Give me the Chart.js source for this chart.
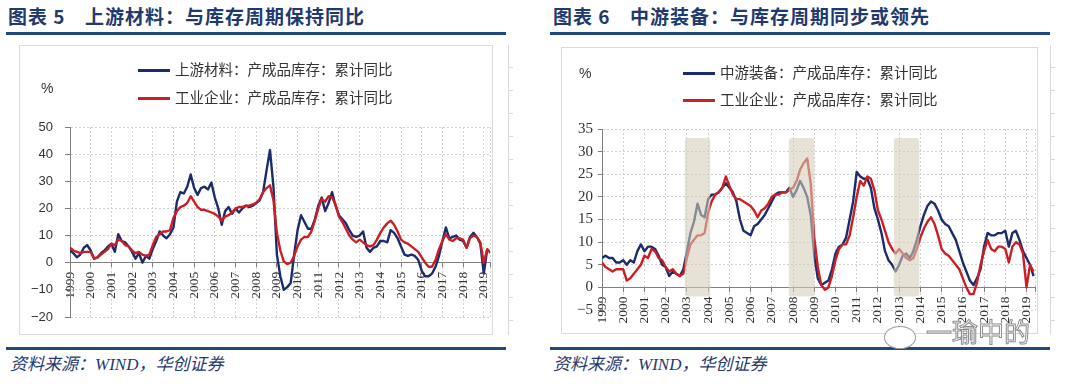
<!DOCTYPE html>
<html lang="zh-CN">
<head>
<meta charset="UTF-8">
<title>上游材料与中游装备：库存周期</title>
<script src="https://cdn.jsdelivr.net/npm/chart.js"></script>
<style>
  body { margin: 0; background: #fff; }
  #page { position: relative; width: 1080px; height: 384px; overflow: hidden; font-family: "Noto Sans CJK SC", sans-serif; }
  #page > div, #page > canvas { position: absolute; }
  .title { top: 4px; font-size: 19px; font-weight: 700; color: #1f3a6e; line-height: 24px; white-space: nowrap; letter-spacing: 1px; }
  .rule { height: 3px; background: #1f4a80; }
  .box { border: 1px solid #dadada; }
  .edge { top: 45px; width: 4px; height: 290px; border-left: 1px solid #d8d8d8;
          background: repeating-linear-gradient(to bottom, transparent 0, transparent 22px, #d8d8d8 22px, #d8d8d8 23px); }
  .legend { font-size: 14.5px; color: #333; line-height: 18px; white-space: nowrap; }
  .legend i { display: inline-block; width: 32px; height: 3px; margin-right: 5px; vertical-align: middle; position: relative; top: -1px; }
  .unit { font-family: "Liberation Sans", sans-serif; font-size: 14px; color: #333; line-height: 16px; }
  .source { top: 355px; font-family: "Liberation Serif", "Noto Sans CJK SC", serif; font-style: italic; font-size: 17px; color: #1f3a6e; line-height: 20px; white-space: nowrap; }
  .wm { font-size: 26px; line-height: 32px; color: #fff; -webkit-text-stroke: 1px #8c8c8c; white-space: nowrap; }
</style>
</head>
<body>
<div id="page">
  <!-- 图表 5 -->
  <div class="title" style="left:8px">图表 5</div>
  <div class="title" style="left:85px">上游材料：与库存周期保持同比</div>
  <div class="rule" style="left:6px; top:32px; width:500px"></div>
  <div class="box" style="left:19px; top:45px; width:472px; height:288px"></div>
  <div class="edge" style="left:508px"></div>
  <div class="rule" style="left:6px; top:347px; width:500px"></div>
  <div class="source" style="left:10px">资料来源：WIND，华创证券</div>

  <!-- 图表 6 -->
  <div class="title" style="left:553px">图表 6</div>
  <div class="title" style="left:630px">中游装备：与库存周期同步或领先</div>
  <div class="rule" style="left:550px; top:32px; width:500px"></div>
  <div class="box" style="left:561px; top:47px; width:475px; height:285px"></div>
  <div class="edge" style="left:1050px"></div>
  <div class="rule" style="left:550px; top:347px; width:500px"></div>
  <div class="source" style="left:553px">资料来源：WIND，华创证券</div>

  <canvas id="left" width="540" height="384" style="left:0; top:0"></canvas>
  <canvas id="right" width="540" height="384" style="left:540px; top:0"></canvas>

  <div class="unit" style="left:41px; top:80px">%</div>
  <div class="legend" id="lg1" style="left:138px; top:60px"></div>
  <div class="legend" id="lg2" style="left:138px; top:88px"></div>

  <div class="unit" style="left:579px; top:65px">%</div>
  <div class="legend" id="lg3" style="left:683px; top:63px"></div>
  <div class="legend" id="lg4" style="left:683px; top:90px"></div>

  <div style="left:884px; top:326px; width:30px; height:21px; border:1.5px solid #9a9a9a; border-radius:50%; background:#fff"></div>
  <div class="wm" style="left:926px; top:315px">一瑜中的</div>
</div>

<script>
// x positions: one reading every two months starting Jan 1999
const months = [];
for (let k = 0; k < 123; k++) months.push(1999 + k / 6);

const years = [1999, 2000, 2001, 2002, 2003, 2004, 2005, 2006, 2007, 2008, 2009,
               2010, 2011, 2012, 2013, 2014, 2015, 2016, 2017, 2018, 2019];

// 上游材料：产成品库存：累计同比 (%)
const upstream = [
  4.5, 3.5, 2, 3, 5.5, 6.5,
  4.5, 1.5, 2, 3.5, 4.5, 6,
  7, 4, 10.5, 8, 7.5, 6,
  4, 1.5, 3.5, 0, 2.5, 1.5,
  5, 8, 11.5, 10, 9, 10.5,
  13, 22.5, 26, 25.5, 28, 32.5,
  27.5, 25, 27.5, 28, 27, 29.5,
  24, 20, 14, 19, 20.5, 18,
  20, 18.5, 20, 21, 20.5, 21,
  22, 23, 26, 34, 41.5, 28,
  3, -5, -10, -9, -7.5, 3,
  12, 17.5, 15, 12.5, 12.5, 16,
  21, 24, 19, 22, 26, 21,
  17.5, 16, 14.5, 12, 10, 9.5,
  10, 11.5, 5.5, 4, 5.5, 6,
  8, 8, 7.5, 12, 11, 9,
  6, 3, 2.5, 3, 2.5, 1,
  -3, -5, -5, -4, -1.5, 2.5,
  8, 13, 9, 9.5, 10, 8.5,
  8, 5.5, 9.5, 11, 9.5, 7,
  -4, 5
];

// 中游装备：产成品库存：累计同比 (%)
const midstream = [
  6.5, 7, 6.5, 6.5, 5.5, 5.5,
  6, 5, 6, 5.5, 8, 9.5,
  8, 9, 9, 8.5, 7, 5,
  4.5, 2.5, 3.5, 3, 2.5, 4,
  8, 12, 14.5, 18.5, 16, 15.5,
  19.5, 20.5, 20.5, 21, 22, 23,
  22, 21, 19, 15, 12.5, 12,
  11.5, 13.5, 14, 15, 16, 17.5,
  19, 20.5, 21, 21, 21, 22,
  20, 21.5, 23.5, 22, 20, 16,
  7, 2, 0.5, 1, 1.5, 4,
  7.5, 9, 9.5, 11, 15, 19,
  25.5, 24.5, 24, 24, 22, 17.5,
  15, 12, 8, 6, 5, 3.5,
  5, 7, 7.5, 6.5, 8, 10.5,
  13.5, 16, 18, 19, 18.5, 17,
  15, 14, 13.5, 12, 10.5, 8,
  5.5, 3.5, 1.5, 0.5, 2, 4,
  9, 12, 11.5, 11.5, 12, 12,
  12.5, 9, 12, 12.5, 10.5, 8,
  6.5, 5, 2.5
];

// 工业企业：产成品库存：累计同比 (%) — same series in both panels
const industry = [
  5.5, 4.5, 4, 3.5, 4, 4,
  4, 1.5, 2, 3, 4, 5,
  7, 6.5, 8.5, 8, 6.5, 6,
  4.5, 3.5, 4, 3, 2.5, 3,
  6.5, 9.5, 10.5, 11.5, 11.5, 12,
  16.5, 19, 20.5, 21, 22, 24.5,
  22.5, 20.5, 19.5, 19.5, 19, 18.5,
  18, 17, 15.5, 17, 17.5, 18.5,
  20, 20.5, 20.5, 21, 21, 21.5,
  22, 23.5, 26, 27.5, 28.5, 23,
  11, 4.5, 0.5, -0.5, 0, 2.5,
  6, 8.5, 9.5, 9.5, 11.5, 15.5,
  20, 23.5, 22.5, 24.5, 24, 21.5,
  17, 15, 12.5, 10, 8.5, 7.5,
  8.5, 7.5, 6.5, 6, 6.5, 8.5,
  11, 13, 14.5, 15.5, 14, 11.5,
  8.5, 7.5, 7, 6, 5, 4,
  2, 0, -1.5, -1.5, 1, 5,
  8, 10.5, 8.5, 8, 9, 9,
  8.5, 5.5, 9, 10, 9.5, 7.5,
  0, 5, 3.5
];

// shaded periods in 图表 6
const bandFrom = [2002.9, 2007.8, 2012.75];
const bandTo = [2004.1, 2009.0, 2013.95];
const bandTop = 33, bandBottom = -2;

const blue = '#1a2c6b';
const red = '#cc1f25';

const bandPlugin = {
  id: 'bands',
  afterDatasetsDraw(chart) {
    const { ctx, scales: { x, y } } = chart;
    ctx.save();
    ctx.fillStyle = 'rgba(212, 206, 184, 0.58)';
    bandFrom.forEach((from, i) => {
      const x0 = x.getPixelForValue(from), x1 = x.getPixelForValue(bandTo[i]);
      const y0 = y.getPixelForValue(bandTop), y1 = y.getPixelForValue(bandBottom);
      ctx.beginPath();
      if (ctx.roundRect) ctx.roundRect(x0, y0, x1 - x0, y1 - y0, 3);
      else ctx.rect(x0, y0, x1 - x0, y1 - y0);
      ctx.fill();
    });
    ctx.restore();
  }
};

function lineChart(id, cfg) {
  const axisGray = '#7f7f7f', gridGray = '#d0d0d0';
  return new Chart(document.getElementById(id), {
    type: 'line',
    data: {
      datasets: cfg.series.map(s => ({
        label: s.label,
        data: s.values.map((v, i) => ({ x: months[i], y: v })),
        borderColor: s.color,
        borderWidth: 2.4,
        pointRadius: 0,
        tension: 0,
        borderJoinStyle: 'round',
        fill: false,
        order: s.order
      }))
    },
    options: {
      responsive: false,
      animation: false,
      devicePixelRatio: 1,
      layout: { padding: cfg.padding },
      plugins: { legend: { display: false }, tooltip: { enabled: false } },
      scales: {
        x: {
          type: 'linear',
          min: 1999,
          max: cfg.xMax,
          position: { y: 0 },
          afterBuildTicks: s => { s.ticks = years.map(v => ({ value: v })).concat([{ value: cfg.xMax }]); },
          ticks: {
            autoSkip: false, minRotation: 90, maxRotation: 90, padding: 5, color: '#333',
            font: { family: '"Liberation Serif", serif', size: 13.5 },
            callback: v => years.includes(v) ? String(v) : ''
          },
          grid: { color: gridGray, tickLength: 4, tickColor: axisGray },
          border: { color: axisGray, dash: [2, 2] }
        },
        y: {
          min: cfg.yMin,
          max: cfg.yMax,
          afterFit: s => { s.width = cfg.yWidth; },
          ticks: {
            stepSize: cfg.yStep, padding: cfg.yPad, color: '#333', font: cfg.yFont,
            callback: v => String(v).replace('-', '\u2212')
          },
          grid: { color: gridGray, tickLength: cfg.yTick, tickColor: axisGray },
          border: { color: axisGray, dash: [2, 2] }
        }
      }
    },
    plugins: cfg.plugins || []
  });
}

const leftChart = lineChart('left', {
  series: [
    { label: '上游材料：产成品库存：累计同比', values: upstream, color: blue, order: 1 },
    { label: '工业企业：产成品库存：累计同比', values: industry, color: red, order: 0 }
  ],
  padding: { left: 0, top: 127, right: 50, bottom: 67 },
  xMax: 2019.3,
  yMin: -20, yMax: 50, yStep: 10,
  yWidth: 70, yPad: 12, yTick: 5,
  yFont: { family: '"Liberation Sans", sans-serif', size: 13 }
});

const rightChart = lineChart('right', {
  series: [
    { label: '中游装备：产成品库存：累计同比', values: midstream, color: blue, order: 1 },
    { label: '工业企业：产成品库存：累计同比', values: industry, color: red, order: 0 }
  ],
  padding: { left: 0, top: 129, right: 45, bottom: 74 },
  xMax: 2019.4,
  yMin: -5, yMax: 35, yStep: 5,
  yWidth: 62, yPad: 5, yTick: 4,
  yFont: { family: '"Liberation Serif", serif', size: 15 },
  plugins: [bandPlugin]
});

// legends built from the dataset labels and colours
function legendRow(el, ds) {
  document.getElementById(el).innerHTML = '<i style="background:' + ds.borderColor + '"></i>' + ds.label;
}
legendRow('lg1', leftChart.data.datasets[0]);
legendRow('lg2', leftChart.data.datasets[1]);
legendRow('lg3', rightChart.data.datasets[0]);
legendRow('lg4', rightChart.data.datasets[1]);
</script>
</body>
</html>
